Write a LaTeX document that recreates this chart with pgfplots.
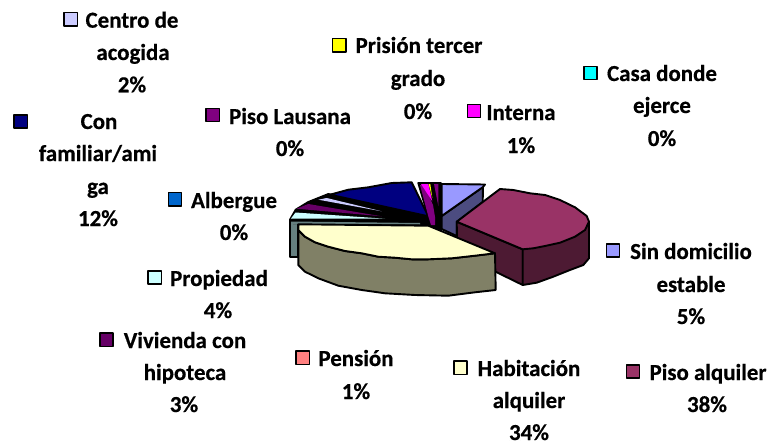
\documentclass[border=0pt]{standalone}
\usepackage{fontspec}
\setmainfont[BoldFeatures={FakeBold=0.5}]{Carlito}
\usepackage{pgfplots}
\pgfplotsset{compat=1.18}

\definecolor{sindom}{HTML}{9999FF}
\definecolor{sindomS}{HTML}{4C4C80}
\definecolor{pisoalq}{HTML}{993366}
\definecolor{pisoalqS}{HTML}{4D1A33}
\definecolor{habit}{HTML}{FFFFCC}
\definecolor{habitS}{HTML}{808066}
\definecolor{prop}{HTML}{CCFFFF}
\definecolor{propS}{HTML}{668080}
\definecolor{vivi}{HTML}{660066}
\definecolor{centro}{HTML}{CCCCFF}
\definecolor{confam}{HTML}{000080}
\definecolor{lausana}{HTML}{800080}
\definecolor{albergue}{HTML}{0066CC}
\definecolor{pension}{HTML}{FF8080}
\definecolor{interna}{HTML}{FF00FF}
\definecolor{prision}{HTML}{FFFF00}
\definecolor{casa}{HTML}{00FFFF}

\newcommand{\lbl}[3]{\node[anchor=base,inner sep=0pt,font=\fontsize{23}{27}\selectfont\bfseries] at (axis cs:#1,#2) {#3};}
\newcommand{\sq}[3]{\addplot[only marks,mark=square*,mark size=6.6bp,mark options={fill=#3,draw=black,line width=1.5bp}] coordinates {(#1,#2)};}

\begin{document}
\begin{tikzpicture}
\begin{axis}[
    scale only axis,
    width=781bp, height=446bp,
    xmin=0, xmax=781,
    ymin=0, ymax=446,
    y dir=reverse,
    hide axis,
    clip=false,
    every axis plot/.append style={line width=1.9bp,line join=round},
]
% keeps the page as large as the reference
\path (axis cs:0,0) (axis cs:781,446);

% Propiedad, back edge and side
\addplot[draw=black,fill=propS] coordinates {(290,220)(298,220)(298,257)(290,257)} -- cycle;
% black fan under the small slices on the left
\addplot[draw=black,fill=black] coordinates {(290,219.7)(295.7,209.7)(308.3,202)(318.3,198)(328.3,194)(428,216)(437,229)(420,225)(290,223)} -- cycle;
\addplot[draw=none,fill=prop] coordinates {(291,218.5)(295.5,212.5)(385,218.7)} -- cycle;
\addplot[draw=none,fill=propS] coordinates {(291,221.5)(420,223)(420,224.5)(291,224)} -- cycle;
\addplot[draw=none,fill=vivi] coordinates {(296.7,208.7)(308.3,204)(381.7,216.3)} -- cycle;
\addplot[draw=none,fill=centro] coordinates {(318.3,199.7)(326.7,198)(381.7,211.3)} -- cycle;

% Con familiar/amiga
\addplot[draw=black,fill=confam] coordinates {(330,194.7)(348.3,189.7)(368.3,187.3)(391.7,183)(411.7,182.3)(428.3,216.3)} -- cycle;

% wedges at the back
\addplot[draw=black,fill=black] coordinates {(418.3,183)(441,183)(441,216)(441,229)(436,229)(433,224)(428,216)} -- cycle;
\addplot[draw=none,fill=lausana] coordinates {(420,185)(424,185)(433,205)(435,217)(435,225)(431,225)(428.5,217)} -- cycle;
\addplot[draw=none,fill=interna] coordinates {(421,184)(428.3,184)(432.3,201.3)} -- cycle;
\addplot[draw=none,fill=prision] coordinates {(428.6,184)(430.3,184)(432.3,198)} -- cycle;
\addplot[draw=none,fill=lausana] coordinates {(434,184)(438.3,184)(438.3,206)} -- cycle;

% Sin domicilio estable
\addplot[draw=black,fill=sindomS] coordinates {(483,187)(482.7,202)(456.7,222)(456.7,236)(441.7,229)(441.7,216)} -- cycle;
\addplot[draw=black,fill=sindom] coordinates {(441.7,184)(485,184.5)(483,187)(441.7,216)} -- cycle;

% Piso alquiler
\addplot[draw=black,fill=pisoalqS] coordinates {(456.7,221.7)(522.7,249.3)(522.7,285)(457.3,253)} -- cycle;
\addplot[draw=black,fill=pisoalqS] coordinates {(522.7,249.3)(589,221.7)(589,258.3)(583.3,265)(570,270)(553.3,276.7)(536.7,282.7)(522.7,285)} -- cycle;
\addplot[draw=black,fill=pisoalq] coordinates {(456.7,221.7)(500,189)(513.3,190)(530,193.3)(545,195)(560,200)(575,207.3)(586.7,216)(589,221.7)(585,230)(575,236.7)(560,242.7)(545,246)(533.3,248.3)(522.7,249.3)} -- cycle;

% Habitacion alquiler
\addplot[draw=black,fill=habitS] coordinates {(298.3,230)(305,236.7)(315,242.3)(328.3,246.7)(345,251)(361.7,253.3)(378.3,256.7)(395,257.7)(411.7,259.3)(428.3,259.3)(451.7,258.3)(475,255.7)(495,253.3)(495.7,290)(475,292.3)(448.3,295.7)(415,295)(385,293.3)(361.7,290)(338.3,285.7)(318.3,278.3)(305,271.7)(298.3,265)} -- cycle;
\addplot[draw=black,fill=habit] coordinates {(428.3,225.7)(298.3,224.3)(298.3,230)(305,236.7)(315,242.3)(328.3,246.7)(345,251)(361.7,253.3)(378.3,256.7)(395,257.7)(411.7,259.3)(428.3,259.3)(451.7,258.3)(475,255.7)(495,253.3)} -- cycle;

% legend keys
\sq{70.8}{19.2}{centro}
\sq{339.2}{45.3}{prision}
\sq{590.5}{73}{casa}
\sq{474}{111}{interna}
\sq{212.8}{115}{lausana}
\sq{20.8}{121.5}{confam}
\sq{175}{199.3}{albergue}
\sq{613}{250.5}{sindom}
\sq{154.7}{277.5}{prop}
\sq{106.5}{339.8}{vivi}
\sq{302.8}{357.8}{pension}
\sq{460.5}{367.8}{habit}
\sq{633}{371.5}{pisoalq}

% labels
\lbl{132}{27.7}{Centro de}
\lbl{133}{60}{acogida}
\lbl{132}{92.3}{2\%}
\lbl{419}{53}{Prisión tercer}
\lbl{418}{86}{grado}
\lbl{418}{119}{0\%}
\lbl{662}{81}{Casa donde}
\lbl{662}{113}{ejerce}
\lbl{662}{146}{0\%}
\lbl{521}{120}{Interna}
\lbl{521}{153}{1\%}
\lbl{290}{124}{Piso Lausana}
\lbl{290}{156}{0\%}
\lbl{99}{129}{Con}
\lbl{98}{161}{familiar/ami}
\lbl{98}{194}{ga}
\lbl{98}{226}{12\%}
\lbl{234}{208}{Albergue}
\lbl{234}{240}{0\%}
\lbl{691}{259}{Sin domicilio}
\lbl{691}{292}{estable}
\lbl{691}{324}{5\%}
\lbl{219}{286}{Propiedad}
\lbl{218}{318}{4\%}
\lbl{185}{348}{Vivienda con}
\lbl{185}{380}{hipoteca}
\lbl{184}{412}{3\%}
\lbl{356}{366}{Pensión}
\lbl{356}{399}{1\%}
\lbl{529}{376}{Habitación}
\lbl{529}{408}{alquiler}
\lbl{529}{440}{34\%}
\lbl{708}{380}{Piso alquiler}
\lbl{707}{412}{38\%}

\end{axis}
\end{tikzpicture}
\end{document}
